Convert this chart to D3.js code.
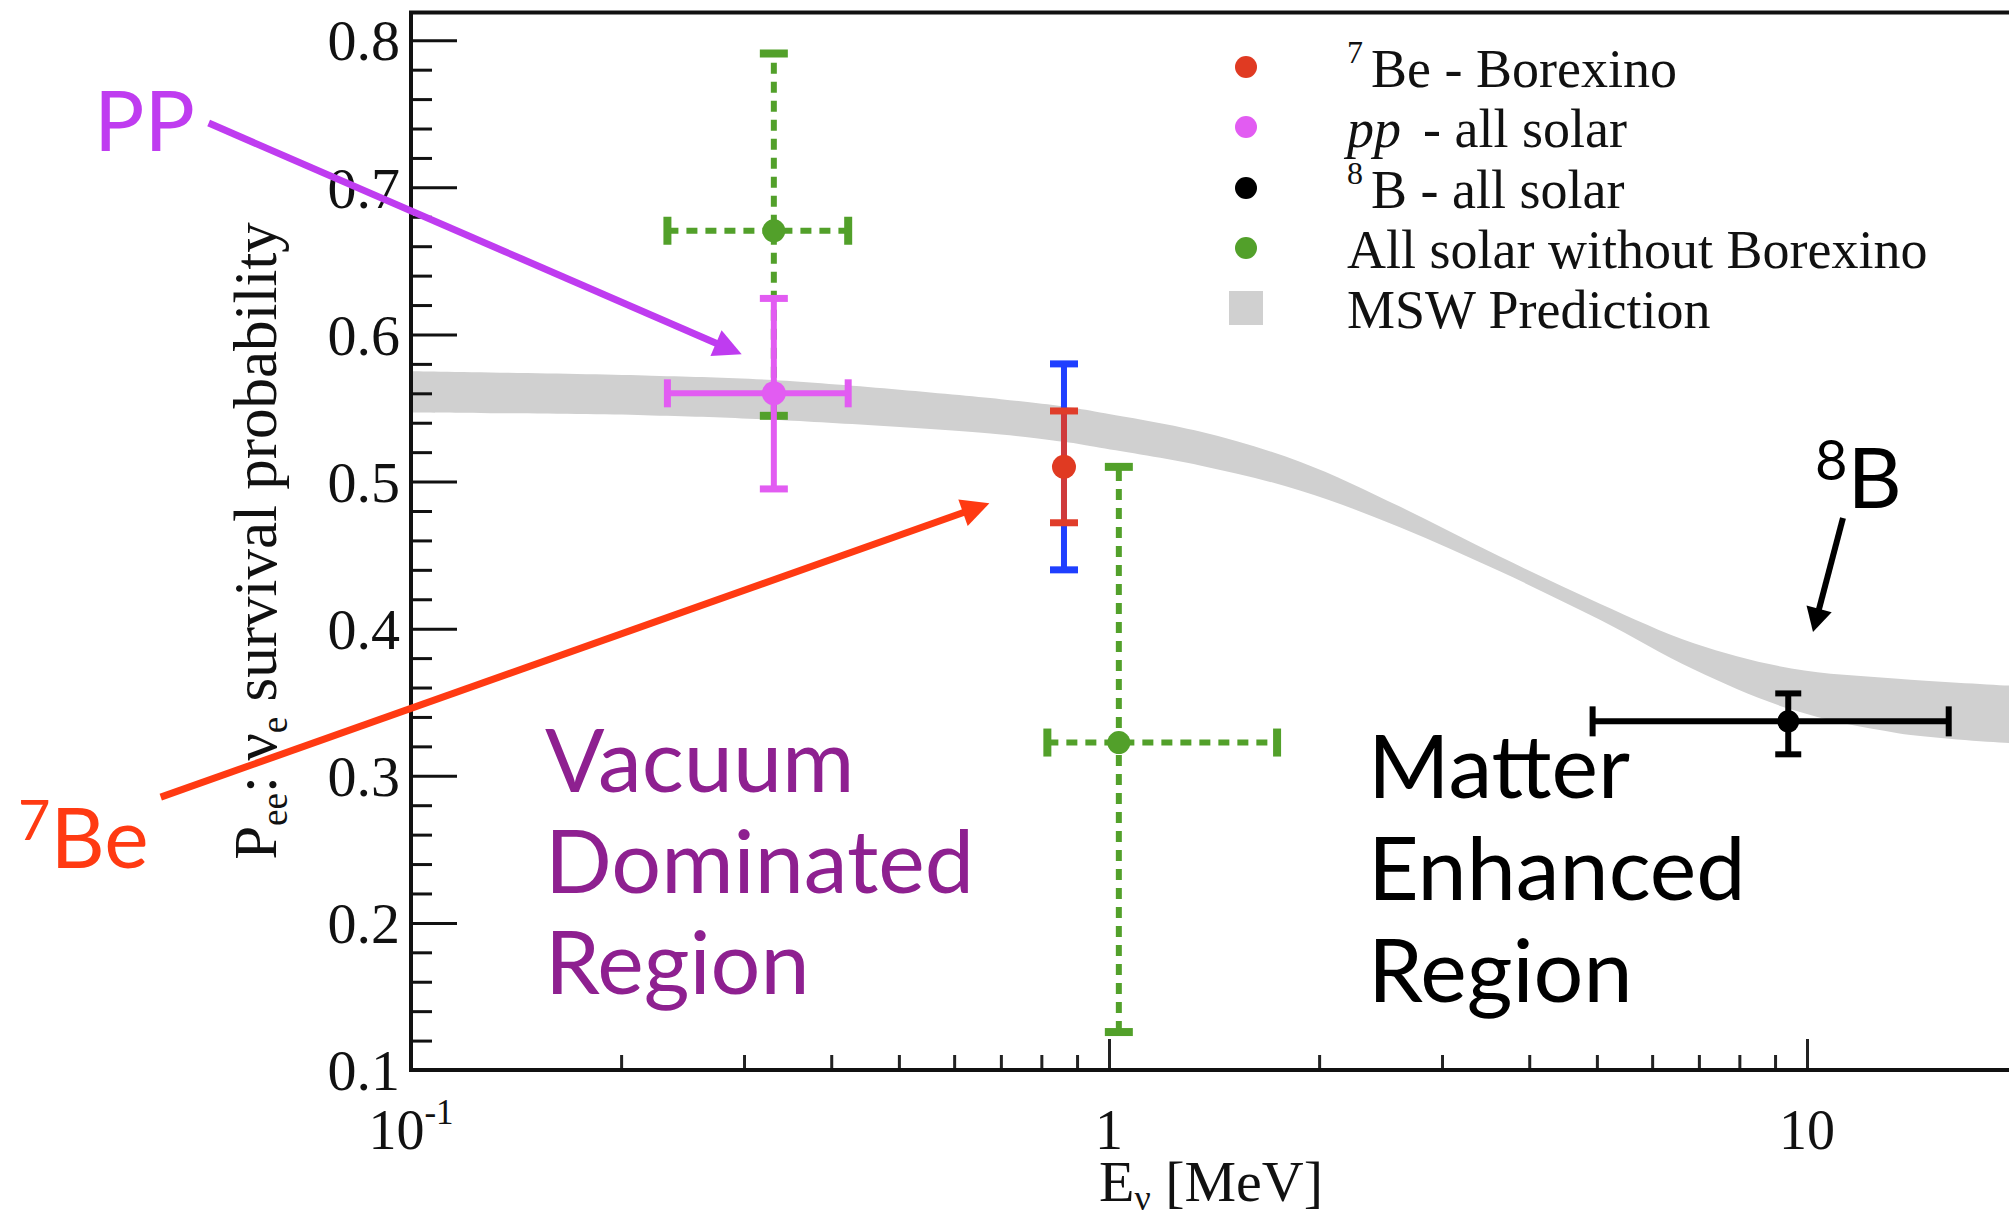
<!DOCTYPE html>
<html>
<head>
<meta charset="utf-8">
<script src="https://cdn.jsdelivr.net/npm/d3@7"></script>
<style>
  html, body { margin: 0; padding: 0; background: #fff; overflow: hidden; }
  svg { display: block; }
</style>
</head>
<body>
<svg id="chart" width="2009" height="1214"></svg>
<script>
// ---- MSW prediction band (energy in MeV, lower / upper survival probability)
const bandEnergy = [0.1, 0.221, 0.331, 0.70, 0.862, 0.971, 1.35, 1.877, 2.61, 3.63, 5.05, 6.9, 9.5, 13.5, 20];
const bandLow    = [0.547, 0.545, 0.542, 0.532, 0.527, 0.523, 0.511, 0.494, 0.469, 0.439, 0.406, 0.372, 0.345, 0.329, 0.322];
const bandHigh   = [0.575, 0.572, 0.569, 0.556, 0.551, 0.547, 0.534, 0.5135, 0.483, 0.449, 0.417, 0.390, 0.373, 0.366, 0.361];

// ---- pp - all solar
const ppPoint = [0.331, 0.560];          // [E, Pee]
const ppRangeE = [0.233, 0.423];
const ppRangeP = [0.495, 0.6245];

// ---- 7Be - Borexino (inner: statistical, outer: total)
const be7Point = [0.862, 0.510];
const be7StatP = [0.472, 0.548];
const be7TotalP = [0.440, 0.580];

// ---- 8B - all solar
const b8Point = [9.40, 0.337];
const b8RangeE = [4.93, 15.96];
const b8RangeP = [0.3146, 0.356];

// ---- All solar without Borexino
const noBxEnergy = [0.331, 1.033];
const noBxPee    = [0.6705, 0.3226];
const noBxRangeE = [[0.233, 0.423], [0.816, 1.741]];
const noBxRangeP = [[0.5447, 0.791], [0.1258, 0.510]];

// ---- axes
const yTickValues = [0.1, 0.2, 0.3, 0.4, 0.5, 0.6, 0.7, 0.8];
const xTickValues = [0.1, 1, 10];
const xTickLabels = [["10", "-1"], ["1", ""], ["10", ""]];

// ---- legend
const legendLabels = ["Be - Borexino", "pp", "B - all solar", "All solar without Borexino", "MSW Prediction"];
const legendColors = ["#e03a22", "#e25cf2", "#000000", "#52a02a", "#d0d0d0"];

// ---------------------------------------------------------------------------
const svg = d3.select("#chart");
const serif = "'Liberation Serif', 'Times New Roman', serif";
const sans = "Lato, 'Open Sans', sans-serif";

const x = d3.scaleLog().domain([0.1, 100]).range([411, 411 + 3 * 698]);
const y = d3.scaleLinear().domain([0.1, 0.8188]).range([1070, 12.6]);

const plotRight = 2009;

// background
svg.append("rect").attr("width", 2009).attr("height", 1214).attr("fill", "#fff");

// clip to the frame
svg.append("clipPath").attr("id", "plotClip")
  .append("rect")
  .attr("x", x(0.1)).attr("y", y(0.8188))
  .attr("width", x(100) - x(0.1)).attr("height", y(0.1) - y(0.8188));

const plot = svg.append("g").attr("clip-path", "url(#plotClip)");

// MSW band
const bandData = bandEnergy.map((e, i) => ({ e, lo: bandLow[i], hi: bandHigh[i] }));
plot.append("path")
  .datum(bandData)
  .attr("fill", "#d0d0d0")
  .attr("d", d3.area()
    .x(d => x(d.e))
    .y0(d => y(d.lo))
    .y1(d => y(d.hi))
    .curve(d3.curveCatmullRom.alpha(0.5)));

// error-bar helpers
function vBar(g, e, p0, p1, color, width, dash) {
  g.append("line")
    .attr("x1", x(e)).attr("x2", x(e))
    .attr("y1", y(p0)).attr("y2", y(p1))
    .attr("stroke", color).attr("stroke-width", width)
    .attr("stroke-dasharray", dash || null);
}
function hBar(g, e0, e1, p, color, width, dash) {
  g.append("line")
    .attr("x1", x(e0)).attr("x2", x(e1))
    .attr("y1", y(p)).attr("y2", y(p))
    .attr("stroke", color).attr("stroke-width", width)
    .attr("stroke-dasharray", dash || null);
}
function hCap(g, e, p, color, half, width) {
  g.append("line")
    .attr("x1", x(e) - half).attr("x2", x(e) + half)
    .attr("y1", y(p)).attr("y2", y(p))
    .attr("stroke", color).attr("stroke-width", width);
}
function vCap(g, e, p, color, half, width) {
  g.append("line")
    .attr("x1", x(e)).attr("x2", x(e))
    .attr("y1", y(p) - half).attr("y2", y(p) + half)
    .attr("stroke", color).attr("stroke-width", width);
}
function dot(g, e, p, color, r) {
  g.append("circle").attr("cx", x(e)).attr("cy", y(p)).attr("r", r).attr("fill", color);
}

const green = "#52a02a";
const pink = "#e25cf2";

// All solar without Borexino (dashed)
noBxEnergy.forEach((e, i) => {
  const g = plot.append("g");
  vBar(g, e, noBxRangeP[i][0], noBxRangeP[i][1], green, 6, "11,8");
  hBar(g, noBxRangeE[i][0], noBxRangeE[i][1], noBxPee[i], green, 6, "11,8");
  hCap(g, e, noBxRangeP[i][0], green, 14, 8);
  hCap(g, e, noBxRangeP[i][1], green, 14, 8);
  vCap(g, noBxRangeE[i][0], noBxPee[i], green, 14, 8);
  vCap(g, noBxRangeE[i][1], noBxPee[i], green, 14, 8);
  dot(g, e, noBxPee[i], green, 11.5);
});

// pp - all solar
{
  const g = plot.append("g");
  vBar(g, ppPoint[0], ppRangeP[0], ppRangeP[1], pink, 6);
  hBar(g, ppRangeE[0], ppRangeE[1], ppPoint[1], pink, 6);
  hCap(g, ppPoint[0], ppRangeP[0], pink, 14, 7);
  hCap(g, ppPoint[0], ppRangeP[1], pink, 14, 7);
  vCap(g, ppRangeE[0], ppPoint[1], pink, 14, 7);
  vCap(g, ppRangeE[1], ppPoint[1], pink, 14, 7);
  dot(g, ppPoint[0], ppPoint[1], pink, 12);
}

// 7Be - Borexino
{
  const g = plot.append("g");
  const blue = "#1f3fff";
  vBar(g, be7Point[0], be7TotalP[0], be7TotalP[1], blue, 6);
  hCap(g, be7Point[0], be7TotalP[0], blue, 14, 7);
  hCap(g, be7Point[0], be7TotalP[1], blue, 14, 7);
  vBar(g, be7Point[0], be7StatP[0], be7StatP[1], "#cf3a3c", 6);
  hCap(g, be7Point[0], be7StatP[0], "#e03d2a", 14, 7);
  hCap(g, be7Point[0], be7StatP[1], "#e03d2a", 14, 7);
  dot(g, be7Point[0], be7Point[1], "#e03a22", 12);
}

// 8B - all solar
{
  const g = plot.append("g");
  vBar(g, b8Point[0], b8RangeP[0], b8RangeP[1], "#000", 6);
  hBar(g, b8RangeE[0], b8RangeE[1], b8Point[1], "#000", 6);
  hCap(g, b8Point[0], b8RangeP[0], "#000", 13, 6);
  hCap(g, b8Point[0], b8RangeP[1], "#000", 13, 6);
  vCap(g, b8RangeE[0], b8Point[1], "#000", 15, 6);
  vCap(g, b8RangeE[1], b8Point[1], "#000", 15, 6);
  dot(g, b8Point[0], b8Point[1], "#000", 11);
}

// ---- axes
const yMinor = d3.range(0.1, 0.8001, 0.02).map(v => +v.toFixed(2)).filter(v => !yTickValues.includes(v));
svg.append("g")
  .attr("transform", `translate(${x(0.1)},0)`)
  .call(d3.axisLeft(y).tickValues(yMinor).tickSize(-21).tickFormat(""))
  .call(g => g.select(".domain").remove())
  .call(g => g.selectAll("line").attr("stroke", "#111").attr("stroke-width", 3));

svg.append("g")
  .attr("transform", `translate(${x(0.1)},0)`)
  .call(d3.axisLeft(y).tickValues(yTickValues).tickSize(-46).tickPadding(11).tickFormat(d3.format(".1f")))
  .call(g => g.select(".domain").remove())
  .call(g => g.selectAll("line").attr("stroke", "#111").attr("stroke-width", 3))
  .call(g => g.selectAll("text")
    .attr("font-family", serif).attr("font-size", 58).attr("fill", "#111").attr("dy", "0.34em"));

const xMinor = [];
[0.1, 1, 10].forEach(d => { for (let k = 2; k <= 9; k++) xMinor.push(d * k); });
svg.append("g")
  .attr("transform", `translate(0,${y(0.1)})`)
  .call(d3.axisBottom(x).tickValues(xMinor).tickSize(-15).tickFormat(""))
  .call(g => g.select(".domain").remove())
  .call(g => g.selectAll("line").attr("stroke", "#222").attr("stroke-width", 3));

svg.append("g")
  .attr("transform", `translate(0,${y(0.1)})`)
  .call(d3.axisBottom(x).tickValues(xTickValues).tickSize(-31).tickFormat(""))
  .call(g => g.select(".domain").remove())
  .call(g => g.selectAll("line").attr("stroke", "#222").attr("stroke-width", 3));

// x tick labels (with exponent)
const xLab = svg.append("g").attr("font-family", serif).attr("fill", "#111");
xTickValues.forEach((v, i) => {
  const t = xLab.append("text")
    .attr("x", x(v)).attr("y", y(0.1) + 79)
    .attr("text-anchor", "middle").attr("font-size", 56);
  t.append("tspan").text(xTickLabels[i][0]);
  if (xTickLabels[i][1]) {
    t.append("tspan").attr("font-size", 35).attr("dy", -25).text(xTickLabels[i][1]);
  }
});

// frame: left axis, bottom axis, top edge
svg.append("path")
  .attr("d", `M${plotRight},${y(0.8188)} H${x(0.1)} V${y(0.1)} H${plotRight}`)
  .attr("fill", "none").attr("stroke", "#111").attr("stroke-width", 4);

// axis titles
const yTitle = svg.append("text")
  .attr("transform", `translate(276,541) rotate(-90)`)
  .attr("text-anchor", "middle")
  .attr("font-family", serif).attr("font-size", 61).attr("fill", "#111");
yTitle.append("tspan").text("P");
yTitle.append("tspan").attr("font-size", 37).attr("dy", 11).text("ee");
yTitle.append("tspan").attr("dy", -11).text(": ν");
yTitle.append("tspan").attr("font-size", 37).attr("dy", 11).text("e");
yTitle.append("tspan").attr("dy", -11).text(" survival probability");

const xTitle = svg.append("text")
  .attr("x", 1211).attr("y", 1201)
  .attr("text-anchor", "middle")
  .attr("font-family", serif).attr("font-size", 58).attr("fill", "#111");
xTitle.append("tspan").text("E");
xTitle.append("tspan").attr("font-size", 36).attr("dy", 9).text("ν");
xTitle.append("tspan").attr("dy", -9).text(" [MeV]");

// ---- legend
const legend = svg.append("g").attr("font-family", serif).attr("font-size", 54).attr("fill", "#111");
const rowY = [67, 127, 188, 248, 308];
legendLabels.forEach((lab, i) => {
  if (i < 4) {
    legend.append("circle").attr("cx", 1246).attr("cy", rowY[i]).attr("r", 11).attr("fill", legendColors[i]);
  } else {
    legend.append("rect").attr("x", 1229).attr("y", rowY[i] - 17).attr("width", 34).attr("height", 34)
      .attr("fill", legendColors[i]);
  }
  const t = legend.append("text").attr("x", 1347).attr("y", rowY[i] + 20);
  if (i === 0 || i === 2) {
    t.append("tspan").attr("font-size", 32).attr("dy", -24).text(i === 0 ? "7" : "8");
    t.append("tspan").attr("dy", 24).attr("dx", 8).text(lab);
  } else if (i === 1) {
    t.append("tspan").attr("font-style", "italic").text(lab);
    t.append("tspan").attr("dx", 22).text("- all solar");
  } else {
    t.text(lab);
  }
});

// ---- annotations
function arrow(from, to, color, width, headLen, headHalf) {
  const x0 = x(from[0]), y0 = y(from[1]), x1 = x(to[0]), y1 = y(to[1]);
  const dx = x1 - x0, dy = y1 - y0, len = Math.hypot(dx, dy);
  const ux = dx / len, uy = dy / len;
  const bx = x1 - ux * headLen, by = y1 - uy * headLen;
  svg.append("line")
    .attr("x1", x0).attr("y1", y0).attr("x2", bx + ux * 2).attr("y2", by + uy * 2)
    .attr("stroke", color).attr("stroke-width", width);
  svg.append("path")
    .attr("d", `M${x1},${y1} L${bx - uy * headHalf},${by + ux * headHalf} L${bx + uy * headHalf},${by - ux * headHalf} Z`)
    .attr("fill", color);
}

const ppColor = "#bf3cf0";
const beColor = "#ff3a12";
const vacColor = "#8e2090";

arrow([0.0513, 0.7437], [0.2977, 0.5865], ppColor, 7, 28, 14);
arrow([0.0438, 0.2855], [0.674, 0.4852], beColor, 7, 28, 14);
arrow([11.26, 0.4752], [10.2, 0.3977], "#000", 6, 24, 13);

const ann = svg.append("g").attr("font-family", sans);
ann.append("text").attr("x", 94).attr("y", 151).attr("font-size", 84).attr("fill", ppColor).text("PP");

const beLab = ann.append("text").attr("x", 18).attr("y", 868).attr("font-size", 84).attr("fill", beColor);
beLab.append("tspan").attr("font-size", 56).attr("dy", -28).text("7");
beLab.append("tspan").attr("dy", 28).text("Be");

const b8Lab = ann.append("text").attr("x", 1815).attr("y", 508).attr("font-size", 84).attr("fill", "#000");
b8Lab.append("tspan").attr("font-size", 56).attr("dy", -28).text("8");
b8Lab.append("tspan").attr("dy", 28).text("B");

["Vacuum", "Dominated", "Region"].forEach((w, i) => {
  ann.append("text").attr("x", 545).attr("y", 792 + i * 101)
    .attr("font-size", 88).attr("fill", vacColor).text(w);
});
["Matter", "Enhanced", "Region"].forEach((w, i) => {
  ann.append("text").attr("x", 1368).attr("y", 798 + i * 102)
    .attr("font-size", 88).attr("fill", "#000").text(w);
});
</script>
</body>
</html>
